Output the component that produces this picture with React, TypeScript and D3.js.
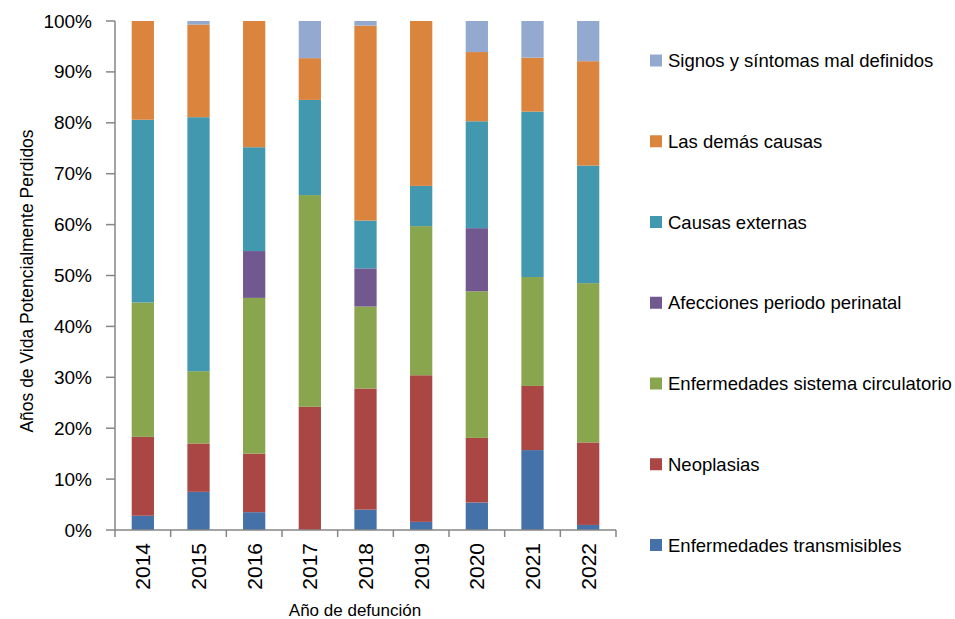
import { useMemo } from "react"
import * as d3 from "d3"

const years = ["2014", "2015", "2016", "2017", "2018", "2019", "2020", "2021", "2022"]

// porcentaje de AVPP por grupo de causa (de abajo hacia arriba)
const transmisibles = [2.8, 7.5, 3.5, 0, 4.0, 1.6, 5.4, 15.7, 1.0]
const neoplasias = [15.5, 9.5, 11.5, 24.2, 23.8, 28.8, 12.7, 12.6, 16.2]
const circulatorio = [26.4, 14.2, 30.6, 41.6, 16.1, 29.3, 28.8, 21.4, 31.3]
const perinatal = [0, 0, 9.2, 0, 7.5, 0, 12.4, 0, 0]
const externas = [35.9, 49.9, 20.4, 18.7, 9.4, 7.9, 21.0, 32.5, 23.1]
const demas = [19.4, 18.2, 24.8, 8.2, 38.3, 32.4, 13.6, 10.6, 20.5]
const signos = [0, 0.7, 0, 7.3, 0.9, 0, 6.1, 7.2, 7.9]

const seriesNames = [
  "Enfermedades transmisibles",
  "Neoplasias",
  "Enfermedades sistema circulatorio",
  "Afecciones periodo perinatal",
  "Causas externas",
  "Las demás causas",
  "Signos y síntomas mal definidos",
]
const seriesValues = [transmisibles, neoplasias, circulatorio, perinatal, externas, demas, signos]
const colors = ["#4472A8", "#AA4643", "#89A54E", "#71588F", "#4198AF", "#DB843D", "#93A9CF"]

const yTicks = [0, 10, 20, 30, 40, 50, 60, 70, 80, 90, 100]

const W = 955
const H = 619
const left = 115
const right = 616
const top = 21
const bottom = 530
const font = "Arial, 'Liberation Sans', sans-serif"
const axisColor = "#868686"

const App = () => {
  const rows = useMemo(
    () =>
      years.map((year, i) => {
        const row: Record<string, any> = { year }
        seriesNames.forEach((name, s) => (row[name] = seriesValues[s][i]))
        return row
      }),
    []
  )

  const stacked = useMemo(() => d3.stack().keys(seriesNames)(rows as any), [rows])

  const x = d3.scaleBand().domain(years).range([left, right]).paddingInner(0.6).paddingOuter(0.3)
  const y = d3.scaleLinear().domain([0, 100]).range([bottom, top])

  const step = x.step()
  const boundaries = years.map(yr => (x(yr) as number) - (step * 0.6) / 2).concat([right])

  const legendY = d3.scalePoint().domain(seriesNames.slice().reverse()).range([60.5, 545])

  return (
    <div style={{ position: "absolute", left: 0, top: 0 }}>
      <svg width={W} height={H} style={{ display: "block", background: "#fff" }}>
        {stacked.map((layer, s) => (
          <g key={layer.key} fill={colors[s]}>
            {layer.map((d, i) => (
              <rect
                key={i}
                x={x(years[i])}
                y={y(d[1])}
                width={x.bandwidth()}
                height={Math.max(0, y(d[0]) - y(d[1]))}
              />
            ))}
          </g>
        ))}

        {/* eje Y */}
        <line x1={left} x2={left} y1={top} y2={bottom} stroke={axisColor} strokeWidth={1.5} />
        {yTicks.map(t => (
          <g key={t} transform={`translate(0, ${y(t)})`}>
            <line x1={left - 9} x2={left} stroke={axisColor} strokeWidth={1.5} />
            <text
              x={92}
              textAnchor="end"
              dominantBaseline="central"
              style={{ fontFamily: font, fontSize: "19px", fill: "#000" }}
            >
              {t}%
            </text>
          </g>
        ))}

        {/* eje X */}
        <line x1={left} x2={right} y1={bottom} y2={bottom} stroke={axisColor} strokeWidth={1.5} />
        {boundaries.map((b, i) => (
          <line key={i} x1={b} x2={b} y1={bottom} y2={bottom + 7} stroke={axisColor} strokeWidth={1.5} />
        ))}
        {years.map(yr => (
          <text
            key={yr}
            transform={`translate(${(x(yr) as number) + x.bandwidth() / 2}, 543) rotate(-90)`}
            textAnchor="end"
            dominantBaseline="central"
            style={{ fontFamily: font, fontSize: "21px", fill: "#000" }}
          >
            {yr}
          </text>
        ))}

        <text
          x={355}
          y={616}
          textAnchor="middle"
          style={{ fontFamily: font, fontSize: "17px", fill: "#000" }}
        >
          Año de defunción
        </text>
        <text
          transform={`translate(27, 281) rotate(-90)`}
          textAnchor="middle"
          dominantBaseline="central"
          style={{ fontFamily: font, fontSize: "17.5px", fill: "#000" }}
        >
          Años de Vida Potencialmente Perdidos
        </text>

        {/* leyenda */}
        {seriesNames.map((name, s) => (
          <g key={name} transform={`translate(650, ${legendY(name)})`}>
            <rect x={0} y={-6} width={12} height={12} fill={colors[s]} />
            <text
              x={18}
              dominantBaseline="central"
              style={{ fontFamily: font, fontSize: "18.5px", fill: "#000" }}
            >
              {name}
            </text>
          </g>
        ))}
      </svg>
    </div>
  )
}

export default App
